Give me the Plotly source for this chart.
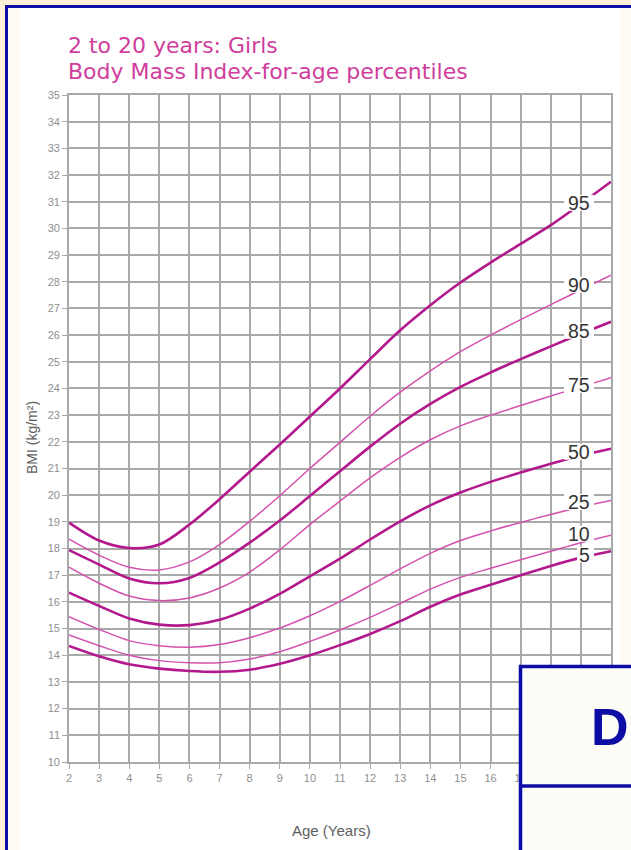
import plotly.graph_objects as go

# ---------------- data ----------------
ages = list(range(2, 21))
x_ticks = list(range(2, 21))
y_ticks = list(range(10, 36))

p95 = [18.97, 18.30, 18.02, 18.15, 18.90, 19.85, 20.88, 21.90, 22.95, 24.00,
       25.10, 26.18, 27.12, 27.97, 28.72, 29.42, 30.12, 30.92, 31.75]
p90 = [18.35, 17.75, 17.30, 17.20, 17.50, 18.15, 19.02, 19.98, 21.00, 21.98,
       22.96, 23.86, 24.66, 25.38, 26.00, 26.58, 27.14, 27.70, 28.25]
p85 = [17.94, 17.40, 16.88, 16.70, 16.90, 17.48, 18.22, 19.05, 19.97, 20.90,
       21.82, 22.68, 23.42, 24.06, 24.60, 25.10, 25.58, 26.05, 26.50]
p75 = [17.30, 16.70, 16.22, 16.05, 16.15, 16.52, 17.12, 17.95, 18.90, 19.78,
       20.65, 21.42, 22.08, 22.60, 23.00, 23.36, 23.72, 24.06, 24.40]
p50 = [16.35, 15.85, 15.38, 15.15, 15.13, 15.33, 15.75, 16.30, 16.96, 17.62,
       18.34, 19.02, 19.62, 20.10, 20.50, 20.85, 21.18, 21.48, 21.74]
p25 = [15.45, 14.97, 14.55, 14.36, 14.30, 14.40, 14.66, 15.02, 15.48, 16.02,
       16.62, 17.24, 17.82, 18.30, 18.66, 18.98, 19.28, 19.56, 19.80]
p10 = [14.76, 14.36, 14.00, 13.80, 13.72, 13.72, 13.86, 14.13, 14.52, 14.95,
       15.42, 15.94, 16.48, 16.92, 17.26, 17.58, 17.90, 18.22, 18.50]
p5 = [14.35, 13.96, 13.66, 13.50, 13.41, 13.38, 13.46, 13.68, 14.00, 14.38,
      14.80, 15.28, 15.82, 16.28, 16.64, 17.00, 17.35, 17.66, 17.90]

series_names = ["95", "90", "85", "75", "50", "25", "10", "5"]
series_values = [p95, p90, p85, p75, p50, p25, p10, p5]

title_line1 = "2 to 20 years: Girls"
title_line2 = "Body Mass Index-for-age percentiles"
x_title = "Age (Years)"
y_title = "BMI (kg/m²)"

# ---------------- styling ----------------
W, H = 631, 850
ML, MR, MT, MB = 69, 20, 95, 88
PW, PH = W - ML - MR, H - MT - MB

def px(x):
    return (x - ML) / PW

def py(y):
    return (H - MB - y) / PH

thick = {"95", "85", "50", "5"}
label_nudge = {"95": 1, "90": 5, "85": 3, "75": 2, "50": 4, "25": 5, "10": 9, "5": 3}
DARK = "#b3188c"
LIGHT = "#d452ae"
NAVY = "#0d0da6"
BEIGE = "#fdf0d9"
TITLE_PINK = "#d03d9c"
FONT = "Liberation Sans, Arial, sans-serif"
TITLE_FONT = "DejaVu Sans, Liberation Sans, Arial, sans-serif"
LABEL_X = 19.37

fig = go.Figure()
for name, vals in zip(series_names, series_values):
    fig.add_trace(go.Scatter(
        x=ages, y=vals, mode="lines", name=name,
        line=dict(color=DARK if name in thick else LIGHT,
                  width=2.6 if name in thick else 1.5,
                  shape="spline", smoothing=0.9),
        hoverinfo="skip", showlegend=False))

annotations = []
shapes = []
label_idx = ages.index(19)
for name, vals in zip(series_names, series_values):
    yv = vals[label_idx]
    nudge = label_nudge[name]
    # white gap in the curve behind the label
    wpx = 28 if len(name) == 2 else 15
    shapes.append(dict(
        type="rect", xref="x", yref="y", xsizemode="pixel", ysizemode="pixel",
        xanchor=LABEL_X, yanchor=yv, x0=-wpx, x1=2, y0=nudge - 8, y1=nudge + 8,
        fillcolor="white", line=dict(width=0), layer="above"))
    annotations.append(dict(
        x=LABEL_X, y=yv, xref="x", yref="y",
        xanchor="right", yanchor="middle", yshift=nudge,
        text=name, showarrow=False,
        font=dict(family=FONT, size=19.5, color="#333333")))

annotations += [
    dict(x=px(66), y=py(46), xref="paper", yref="paper", xanchor="left",
         yanchor="middle", text=title_line1, showarrow=False,
         font=dict(family=TITLE_FONT, size=22, color=TITLE_PINK)),
    dict(x=px(66), y=py(72), xref="paper", yref="paper", xanchor="left",
         yanchor="middle", text=title_line2, showarrow=False,
         font=dict(family=TITLE_FONT, size=22, color=TITLE_PINK)),
    dict(x=px(331), y=py(830), xref="paper", yref="paper", xanchor="center",
         yanchor="middle", text=x_title, showarrow=False,
         font=dict(family=FONT, size=15, color="#606060")),
    dict(x=px(32), y=py(438), xref="paper", yref="paper", xanchor="center",
         yanchor="middle", text=y_title, showarrow=False, textangle=-90,
         font=dict(family=FONT, size=14, color="#606060")),
    dict(x=px(630), y=py(727), xref="paper", yref="paper", xanchor="right",
         yanchor="middle", text="<b>D</b>", showarrow=False, borderpad=0,
         font=dict(family="Liberation Sans Narrow, Liberation Sans, Arial",
                   size=52, color=NAVY)),
]

shapes += [
    # beige frame outside the panel
    dict(type="rect", xref="paper", yref="paper", x0=px(0), x1=px(5),
         y0=py(0), y1=py(H), fillcolor=BEIGE, line=dict(width=0), layer="above"),
    dict(type="rect", xref="paper", yref="paper", x0=px(0), x1=px(W),
         y0=py(0), y1=py(5), fillcolor=BEIGE, line=dict(width=0), layer="above"),
    # faint off-white margins inside the panel
    dict(type="rect", xref="paper", yref="paper", x0=px(8), x1=px(19),
         y0=py(8), y1=py(H), fillcolor="#fffbf3", line=dict(width=0), layer="above"),
    dict(type="rect", xref="paper", yref="paper", x0=px(621), x1=px(W),
         y0=py(8), y1=py(H), fillcolor="#fffbf3", line=dict(width=0), layer="above"),
    # navy panel border
    dict(type="line", xref="paper", yref="paper", x0=px(6.5), x1=px(6.5),
         y0=py(5), y1=py(H + 5), line=dict(color=NAVY, width=3), layer="above"),
    dict(type="line", xref="paper", yref="paper", x0=px(5), x1=px(W + 5),
         y0=py(6.5), y1=py(6.5), line=dict(color=NAVY, width=3), layer="above"),
    # overlapping box at bottom right
    dict(type="rect", xref="paper", yref="paper", x0=px(520.5), x1=px(W + 10),
         y0=py(666.5), y1=py(H + 10), fillcolor="#fdfdf8",
         line=dict(color=NAVY, width=3.5), layer="above"),
    dict(type="line", xref="paper", yref="paper", x0=px(520.5), x1=px(W + 10),
         y0=py(786), y1=py(786), line=dict(color=NAVY, width=3.5), layer="above"),
]

axis_common = dict(
    showgrid=True, gridcolor="#a9a9a9", gridwidth=1.6,
    showline=True, linecolor="#a9a9a9", linewidth=1.6, mirror=True,
    zeroline=False, ticks="outside", ticklen=5, tickcolor="#a9a9a9",
    tickwidth=1.2,
    tickfont=dict(family=FONT, size=11, color="#8f8f8f"),
)

fig.update_layout(
    width=W, height=H,
    margin=dict(l=ML, r=MR, t=MT, b=MB),
    paper_bgcolor="white", plot_bgcolor="white",
    xaxis=dict(range=[2, 20], tickvals=x_ticks, **axis_common),
    yaxis=dict(range=[10, 35], tickvals=y_ticks, **axis_common),
    annotations=annotations, shapes=shapes,
    showlegend=False,
)

fig.write_html("out.html",
               config={"displayModeBar": False},
               post_script="document.body.style.margin='0px';")
